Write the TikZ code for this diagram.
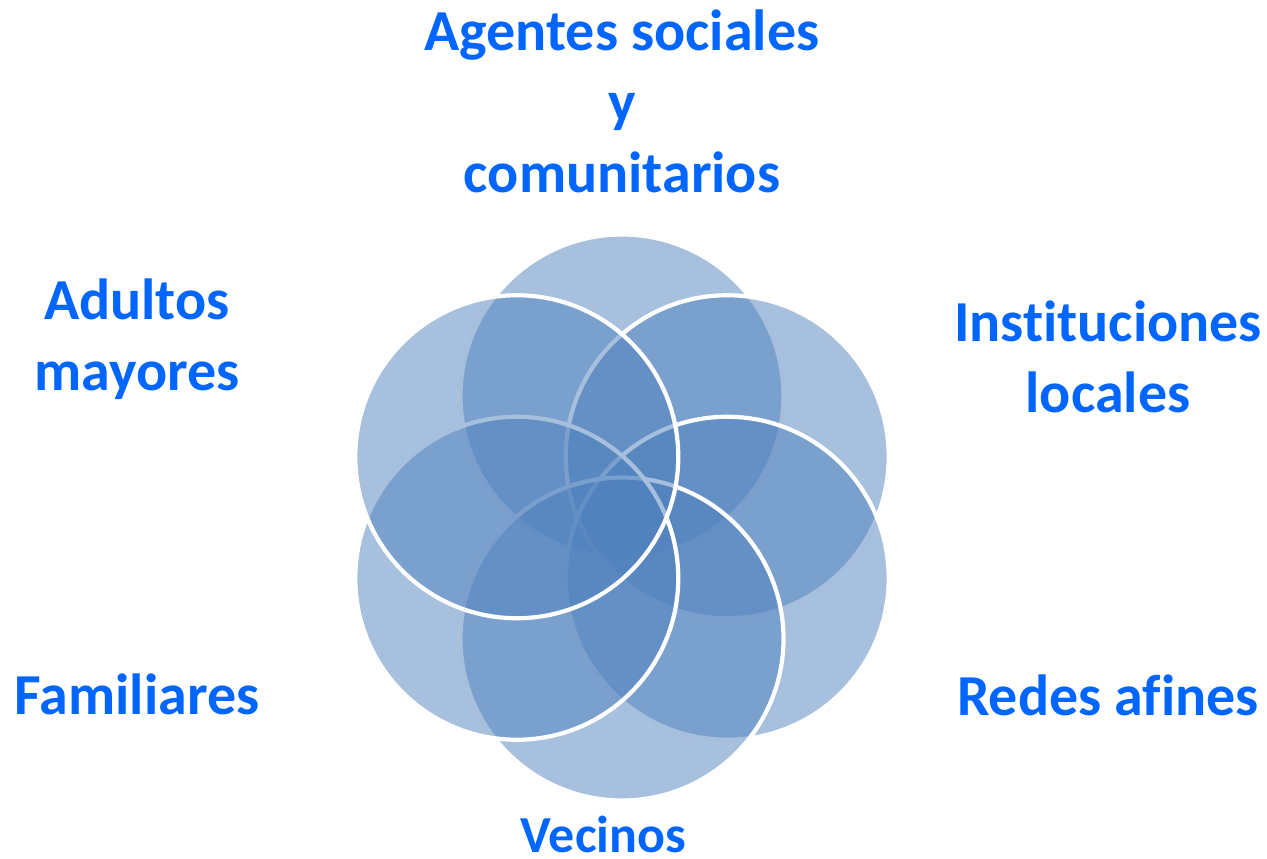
\documentclass[tikz,border=0pt]{standalone}
\usepackage{fontspec}
\setmainfont{Carlito}[Ligatures=NoCommon]
\definecolor{petal}{RGB}{79,129,189}
\definecolor{labelblue}{RGB}{0,102,255}
\begin{document}
\begin{tikzpicture}[x=1pt,y=-1pt,
  petalc/.style={circle, minimum size=323pt, inner sep=0pt, outer sep=0pt,
    fill=petal, fill opacity=0.5, draw=white, draw opacity=1, line width=4.2pt},
  lbl/.style={anchor=base, align=center, text=labelblue,
    font=\bfseries\fontsize{58}{71}\selectfont, inner sep=0pt}]
\useasboundingbox (0,0) rectangle (1267,859);
\coordinate (hub) at (622,517.5);
\node[petalc] (c1) at ([shift={(90:121.5pt)}]hub) {};
\node[petalc] (c2) at ([shift={(30:121.5pt)}]hub) {};
\node[petalc] (c3) at ([shift={(-30:121.5pt)}]hub) {};
\node[petalc] (c4) at ([shift={(-90:121.5pt)}]hub) {};
\node[petalc] (c5) at ([shift={(210:121.5pt)}]hub) {};
\node[petalc] (c6) at ([shift={(150:121.5pt)}]hub) {};
\node[lbl] (agentes) at (622,192) {Agentes sociales\\y\\comunitarios};
\node[lbl] (adultos) at (137,390) {Adultos\\mayores};
\node[lbl] (inst) at (1108,412) {Instituciones\\locales};
\node[lbl] (fam) at (137,714) {Familiares};
\node[lbl] (redes) at (1108,715) {Redes afines};
\node[lbl, font=\bfseries\fontsize{52}{64}\selectfont] (vecinos) at (603.5,852) {Vecinos};
\end{tikzpicture}
\end{document}
